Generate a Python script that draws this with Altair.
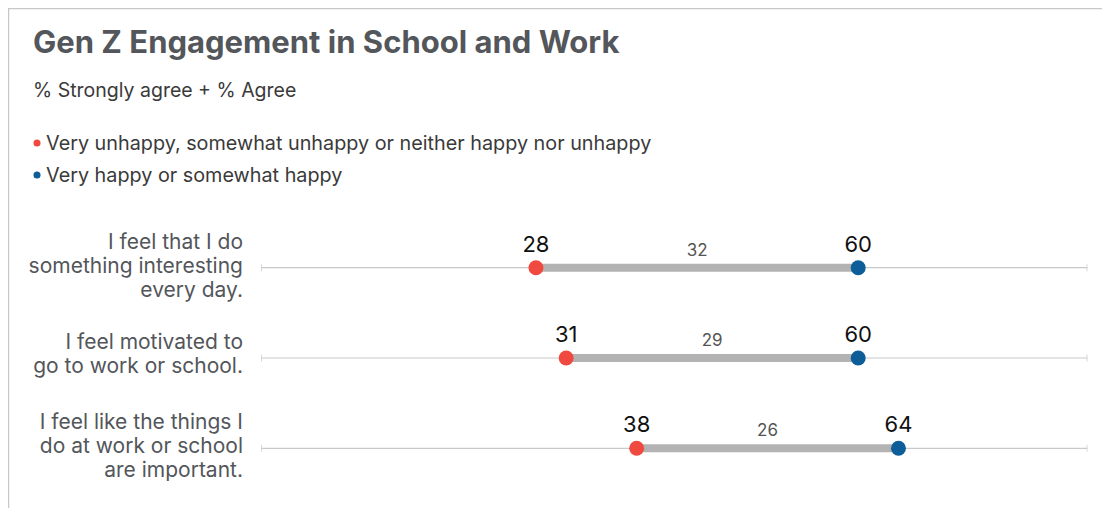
import altair as alt
import pandas as pd

statements = [
    "I feel that I do\nsomething interesting\nevery day.",
    "I feel motivated to\ngo to work or school.",
    "I feel like the things I\ndo at work or school\nare important.",
]
unhappy = [28, 31, 38]
happy = [60, 60, 64]
gaps = [32, 29, 26]
legend_labels = [
    "Very unhappy, somewhat unhappy or neither happy nor unhappy",
    "Very happy or somewhat happy",
]

RED = "#f0493f"
BLUE = "#0d5d99"
FONT = "Inter"
TXT = "#53565a"

df = pd.DataFrame({"row": statements, "low": unhappy, "high": happy, "gap": gaps})
df["mid"] = (df["low"] + df["high"]) / 2
df["nlines"] = df["row"].str.count("\n") + 1

W, H = 1094, 500
xs = alt.Scale(domain=[0, 100], range=[246, 1253])
ys = alt.Scale(domain=statements, range=[259.7, 440.3], type="point", padding=0)
Y = alt.Y("row:N", scale=ys, axis=None)

base = alt.Chart(df)

track = base.mark_rule(color="#c9c9c9", strokeWidth=1.2).encode(
    x=alt.value(253.3), x2=alt.value(1079.3), y=Y
)
cap_l = base.mark_tick(color="#c9c9c9", orient="vertical", size=7, thickness=1).encode(
    x=alt.value(253.5), y=Y
)
cap_r = base.mark_tick(color="#c9c9c9", orient="vertical", size=7, thickness=1).encode(
    x=alt.value(1079), y=Y
)
bar = base.mark_rule(color="#b3b3b3", strokeWidth=8).encode(
    x=alt.X("low:Q", scale=xs, axis=None), x2="high:Q", y=Y
)
dot_low = base.mark_circle(size=225, opacity=1, color=RED).encode(
    x=alt.X("low:Q", scale=xs, axis=None), y=Y
)
dot_high = base.mark_circle(size=225, opacity=1, color=BLUE).encode(
    x=alt.X("high:Q", scale=xs, axis=None), y=Y
)
lab_low = base.mark_text(font=FONT, fontSize=22, color="#111", dy=-16, baseline="alphabetic").encode(
    x=alt.X("low:Q", scale=xs, axis=None), y=Y, text="low:Q"
)
lab_high = base.mark_text(font=FONT, fontSize=22, color="#111", dy=-16, baseline="alphabetic").encode(
    x=alt.X("high:Q", scale=xs, axis=None), y=Y, text="high:Q"
)
lab_gap = base.mark_text(font=FONT, fontSize=17, color="#555", dy=-12, baseline="alphabetic").encode(
    x=alt.X("mid:Q", scale=xs, axis=None), y=Y, text="gap:Q"
)
row_lab3 = base.transform_filter("datum.nlines == 3").mark_text(
    font=FONT, fontSize=21, color=TXT, align="right", baseline="middle",
    lineBreak="\n", lineHeight=24, dy=-25
).encode(x=alt.value(235), y=Y, text="row:N")
row_lab2 = base.transform_filter("datum.nlines == 2").mark_text(
    font=FONT, fontSize=21, color=TXT, align="right", baseline="middle",
    lineBreak="\n", lineHeight=24, dy=-15
).encode(x=alt.value(235), y=Y, text="row:N")

title = alt.Chart(pd.DataFrame({"t": ["Gen Z Engagement in School and Work"]})).mark_text(
    font=FONT, fontSize=31, fontWeight="bold", color=TXT, align="left", baseline="alphabetic"
).encode(x=alt.value(25), y=alt.value(45), text="t:N")
subtitle = alt.Chart(pd.DataFrame({"t": ["% Strongly agree + % Agree"]})).mark_text(
    font=FONT, fontSize=19.5, color="#3a3a3a", align="left", baseline="alphabetic"
).encode(x=alt.value(25), y=alt.value(88.7), text="t:N")

leg = pd.DataFrame({"label": legend_labels, "grp": ["u", "h"]})
legY = alt.Y("label:N", scale=alt.Scale(domain=legend_labels, range=[135, 167], type="point", padding=0), axis=None)
leg_dot = alt.Chart(leg).mark_circle(size=50, opacity=1).encode(
    x=alt.value(29), y=legY,
    color=alt.Color("grp:N", scale=alt.Scale(domain=["u", "h"], range=[RED, BLUE]), legend=None),
)
leg_txt = alt.Chart(leg).mark_text(
    font=FONT, fontSize=19.8, color="#3a3a3a", align="left", baseline="middle", dy=1
).encode(x=alt.value(38), y=legY, text="label:N")

border_l = alt.Chart(pd.DataFrame({"a": [0]})).mark_rule(color="#c8c8c8", strokeWidth=1.5).encode(
    x=alt.value(0.5), y=alt.value(0), y2=alt.value(H)
)
border_t = alt.Chart(pd.DataFrame({"a": [0]})).mark_rule(color="#c8c8c8", strokeWidth=1.5).encode(
    x=alt.value(0), x2=alt.value(W), y=alt.value(0.5)
)

chart = alt.layer(
    border_l, border_t, track, cap_l, cap_r, bar, dot_low, dot_high,
    lab_low, lab_high, lab_gap, row_lab3, row_lab2, title, subtitle, leg_dot, leg_txt
).resolve_scale(y="independent", color="independent").properties(
    width=W, height=H, padding=0, autosize=alt.AutoSizeParams(type="none")
).configure_view(stroke=None)

chart.save("out.html", embed_options={"renderer": "svg", "actions": False})
